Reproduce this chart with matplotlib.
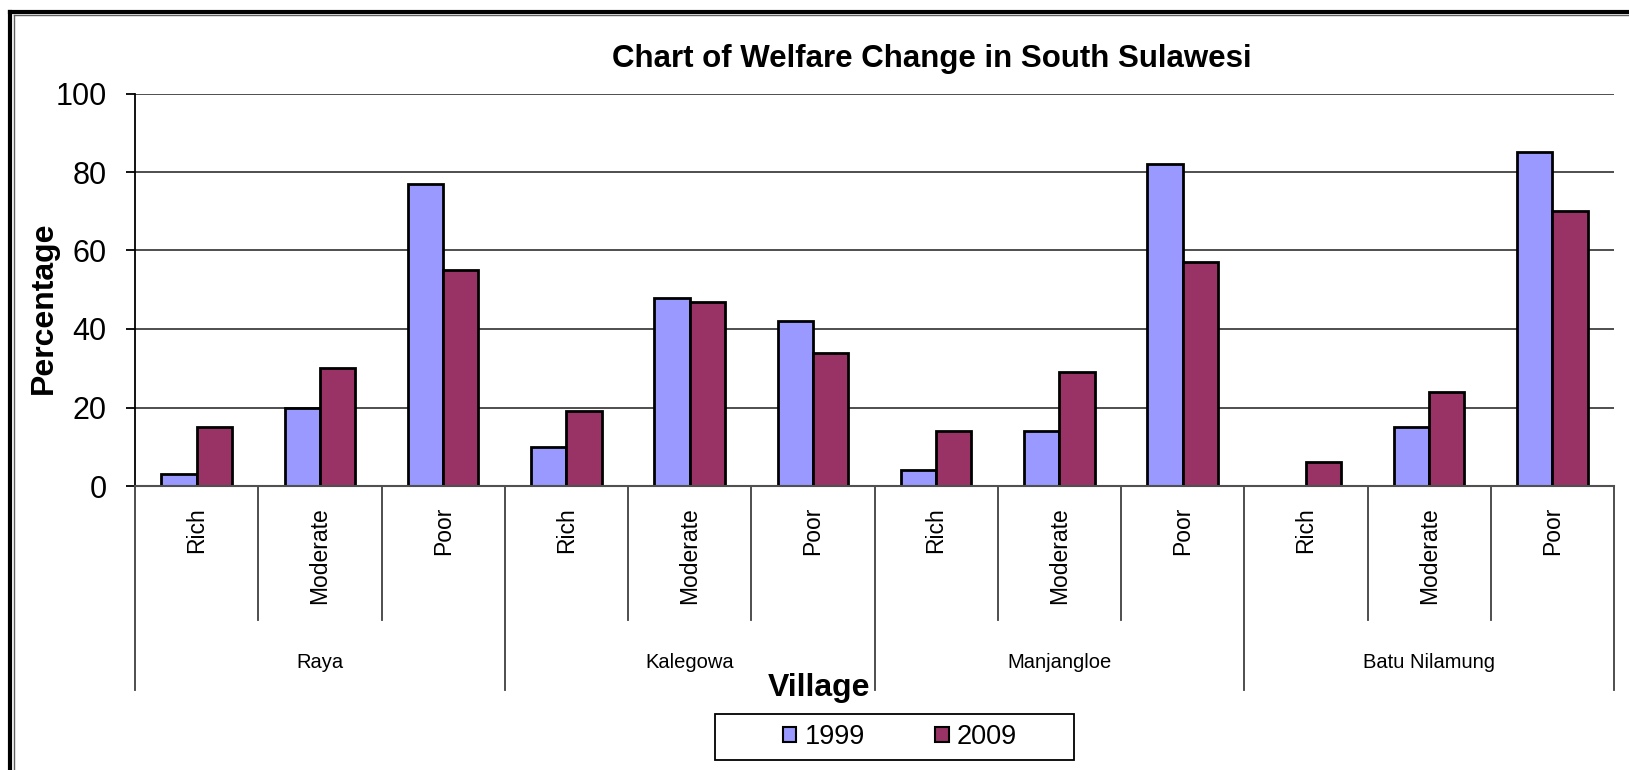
import numpy as np
import matplotlib.pyplot as plt
from matplotlib.lines import Line2D
from matplotlib.patches import Rectangle
import matplotlib.transforms as mtransforms

plt.rcParams['font.family'] = ['Liberation Sans', 'DejaVu Sans']

# data
villages = ['Raya', 'Kalegowa', 'Manjangloe', 'Batu Nilamung']
levels = ['Rich', 'Moderate', 'Poor']
years = ['1999', '2009']
vals_1999 = [3, 20, 77, 10, 48, 42, 4, 14, 82, 0, 15, 85]
vals_2009 = [15, 30, 55, 19, 47, 34, 14, 29, 57, 6, 24, 70]
colors = ['#9999FF', '#993366']

W, H = 1629, 770
fig = plt.figure(figsize=(W / 100, H / 100), dpi=100)
ax = fig.add_axes([135 / W, 1 - 486 / H, (1614 - 135) / W, (486 - 93.5) / H])

n = len(vals_1999)
x = np.arange(n) + 0.5
bw = 1 / 3.5
ax.bar(x - bw / 2, vals_1999, width=bw, color=colors[0], edgecolor='black',
       linewidth=2, label=years[0], zorder=3)
ax.bar(x + bw / 2, vals_2009, width=bw, color=colors[1], edgecolor='black',
       linewidth=2, label=years[1], zorder=3)

ax.set_xlim(0, n)
ax.set_ylim(0, 100)
ax.set_yticks(np.arange(0, 101, 20))
ax.yaxis.grid(True, color='#404040', linewidth=1.3, zorder=0)
ax.tick_params(axis='y', labelsize=22, length=6.5, width=1.3, pad=14)
ax.spines['top'].set_visible(False)
ax.spines['right'].set_visible(False)
ax.spines['left'].set_linewidth(1.3)
ax.spines['bottom'].set_color('#505050')
ax.spines['bottom'].set_linewidth(1.5)
ax.spines['bottom'].set_zorder(4)

# level labels under each pair of bars
ax.set_xticks(x)
ax.set_xticklabels(levels * len(villages), rotation=90, fontsize=16.5, va='top')
ax.tick_params(axis='x', length=0, pad=15)

# separators below the axis
trans = mtransforms.blended_transform_factory(ax.transData, ax.transAxes)
sub_h = (620 - 486) / (486 - 93.5)
grp_h = (690 - 486) / (486 - 93.5)
for i in range(n + 1):
    depth = grp_h if i % 3 == 0 else sub_h
    ax.plot([i, i], [0, -depth], transform=trans, color='#404040',
            linewidth=1.3, clip_on=False)

grp_y = -(663 - 486) / (486 - 93.5)
for g, name in enumerate(villages):
    ax.text(g * 3 + 1.5, grp_y, name, transform=trans, ha='center', va='center',
            fontsize=14.5)

fig.text(932 / W, 1 - 59 / H, 'Chart of Welfare Change in South Sulawesi',
         ha='center', va='center', fontsize=22.5, fontweight='bold')
fig.text(44 / W, 1 - 308 / H, 'Percentage', rotation=90, ha='center',
         va='center', fontsize=23, fontweight='bold')
fig.text(819 / W, 1 - 688 / H, 'Village', ha='center', va='center',
         fontsize=23, fontweight='bold')

# legend box drawn separately, entries from the bars
fig.add_artist(Rectangle((715 / W, 1 - 760 / H), (1074 - 715) / W, 46 / H,
                         transform=fig.transFigure, fill=False,
                         edgecolor='black', linewidth=1.3))
leg = fig.legend(loc='center', bbox_to_anchor=(900 / W, 1 - 737 / H), ncol=2,
                 fontsize=19.5, frameon=False,
                 handlelength=0.5, handleheight=0.5, handletextpad=0.3,
                 columnspacing=2.6, borderpad=0.2)
for h in leg.legend_handles:
    h.set_linewidth(1.5)

# double frame on top and left edges
fig.add_artist(Line2D([10 / W, 10 / W], [0, 1 - 12 / H], color='black',
                      linewidth=3, transform=fig.transFigure))
fig.add_artist(Line2D([10 / W, 1], [1 - 12 / H, 1 - 12 / H], color='black',
                      linewidth=3, transform=fig.transFigure))
fig.add_artist(Line2D([13.5 / W, 13.5 / W], [0, 1 - 15 / H], color='#606060',
                      linewidth=1, transform=fig.transFigure))
fig.add_artist(Line2D([13.5 / W, 1], [1 - 15 / H, 1 - 15 / H], color='#606060',
                      linewidth=1, transform=fig.transFigure))

fig.savefig('out.png', dpi=100)
